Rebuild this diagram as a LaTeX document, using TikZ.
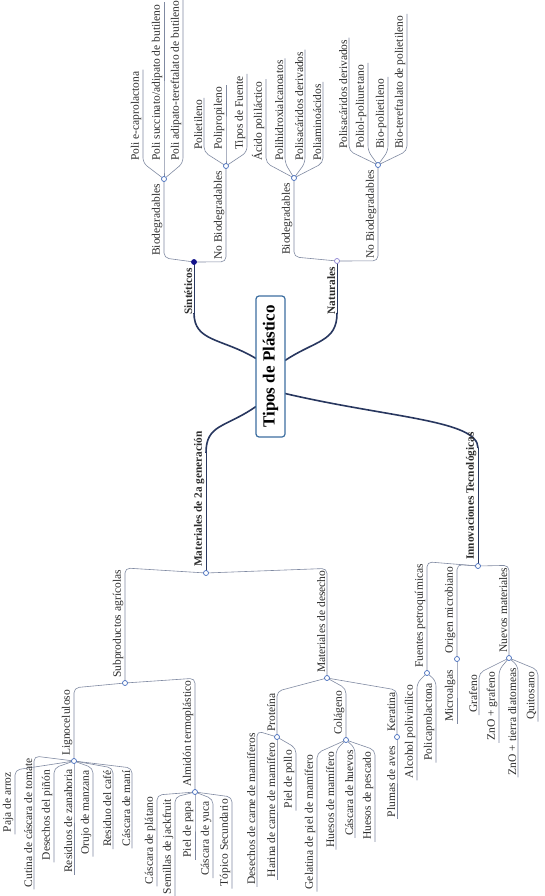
\documentclass[tikz,border=0pt]{standalone}
\usepackage{fontspec}
\setmainfont{Liberation Serif}
\usetikzlibrary{calc}
\pgfdeclarelayer{bg}
\pgfdeclarelayer{paper}
\pgfsetlayers{paper,bg,main}
\definecolor{lineC}{RGB}{128,138,162}
\definecolor{txtC}{RGB}{45,45,45}
\definecolor{dotC}{RGB}{70,110,190}
\definecolor{navyC}{RGB}{40,55,95}
\definecolor{sinC}{RGB}{20,20,140}
\definecolor{natC}{RGB}{140,130,210}
\definecolor{rootC}{RGB}{60,110,160}
\tikzset{
  leaf/.style={rotate=90, font=\fontsize{11.5}{13}\selectfont, text=txtC, inner xsep=2pt, inner ysep=1.5pt},
  mainlbl/.style={rotate=90, font=\fontsize{11.3}{13}\selectfont\bfseries, text=txtC, inner xsep=2pt, inner ysep=1.5pt},
  conn/.style={draw=lineC, line width=0.6pt, rounded corners=5pt},
  dotn/.style={circle, draw=dotC, fill=white, line width=0.7pt, minimum size=5pt, inner sep=0pt},
  rootbox/.style={rotate=90, draw=rootC, line width=1.2pt, rounded corners=3pt, fill=white, text=black,
    font=\fontsize{17}{19}\selectfont\bfseries, minimum width=141pt, minimum height=29pt, inner sep=0pt},
  mainconn/.style={draw=navyC, line width=1.6pt},
  mainline/.style={draw=navyC, line width=0.9pt}
}
\newcommand\toplf[5]{%
  \node[leaf,anchor=south west] (#1) at (#2,#3) {#5};
  \begin{pgfonlayer}{bg}\draw[conn] (#4.center) -- (#1.south west) -- (#1.south east);\end{pgfonlayer}}
\newcommand\botlf[5]{%
  \node[leaf,anchor=south east] (#1) at (#2,#3) {#5};
  \begin{pgfonlayer}{bg}\draw[conn] (#4.center) -- (#1.south east) -- (#1.south west);\end{pgfonlayer}}
\newcommand\topin[6]{%
  \node[dotn] (#5) at (#2,#3) {};
  \node[leaf,anchor=south east] (#1) at ($(#5.center)+(0,3)$) {#6};
  \begin{pgfonlayer}{bg}\draw[conn] (#4.center) -- (#1.south west) -- (#5.center);\end{pgfonlayer}}
\newcommand\botin[6]{%
  \node[dotn] (#5) at (#2,#3) {};
  \node[leaf,anchor=south west] (#1) at ($(#5.center)+(0,-3)$) {#6};
  \begin{pgfonlayer}{bg}\draw[conn] (#4.center) -- (#1.south east) -- (#5.center);\end{pgfonlayer}}
\begin{document}
\begin{tikzpicture}[x=1pt,y=-1pt]
\begin{pgfonlayer}{paper}
\fill[white] (0,0) rectangle (544,896);
\end{pgfonlayer}
\useasboundingbox (0,0) rectangle (544,896);

% root
\node[rootbox] (root) at (270.5,366.5) {Tipos de Plástico};

% main branches
\node[dotn, fill=sinC, draw=sinC] (dSin) at (194,262) {};
\node[mainlbl, anchor=south east] (sin) at (194,266) {Sintéticos};
\node[dotn, draw=natC] (dNat) at (337,261) {};
\node[mainlbl, anchor=south east] (nat) at (337,265) {Naturales};
\node[dotn] (dMat) at (206,573) {};
\node[mainlbl, anchor=south west] (mat) at (206,569) {Materiales de 2a generación};
\node[dotn] (dInn) at (478,566) {};
\node[mainlbl, anchor=south west] (inn) at (478,562) {Innovaciones Tecnológicas};
\coordinate (sinJ) at ($(dSin.center)+(0,51)$);
\coordinate (natJ) at ($(dNat.center)+(0,52)$);
\coordinate (matJ) at ($(dMat.center)+(0,-120)$);
\coordinate (innJ) at ($(dInn.center)+(0,-118)$);

\begin{pgfonlayer}{bg}
\draw[mainconn] ($(root.center)+(-14.5,-8)$) .. controls (222,338) and (194,342) .. (sinJ);
\draw[mainline] (sinJ) -- (dSin.center);
\draw[mainconn] ($(root.center)+(14.5,-6)$) .. controls (316,340) and (337,342) .. (natJ);
\draw[mainline] (natJ) -- (dNat.center);
\draw[mainconn] ($(root.center)+(-14.5,40)$) .. controls (225,428) and (206,424) .. (matJ);
\draw[mainline] (matJ) -- (dMat.center);
\draw[mainconn] ($(root.center)+(14.5,27)$) .. controls (390,418) and (478,420) .. (innJ);
\draw[mainline] (innJ) -- (dInn.center);
\end{pgfonlayer}

% Sinteticos
\topin{sbio}{164}{179}{dSin}{dSB}{Biodegradables}
\topin{snob}{226}{166}{dSin}{dSN}{No Biodegradables}
\toplf{l1}{143}{163}{dSB}{Poli e-caprolactona}
\toplf{l2}{164}{163}{dSB}{Poli succinato/adipato de butileno}
\toplf{l3}{183}{163}{dSB}{Poli adipato-tereftalato de butileno}
\toplf{l4}{204}{152}{dSN}{Polietileno}
\toplf{l5}{226}{152}{dSN}{Polipropileno}
\toplf{l6}{247}{152}{dSN}{Tipos de Fuente}

% Naturales
\topin{nbio}{294}{178}{dNat}{dNB}{Biodegradables}
\topin{nnob}{378}{165}{dNat}{dNN}{No Biodegradables}
\toplf{l7}{266}{163}{dNB}{Ácido poliláctico}
\toplf{l8}{285}{163}{dNB}{Polihidroxialcanoatos}
\toplf{l9}{305}{163}{dNB}{Polisacáridos derivados}
\toplf{l10}{323}{163}{dNB}{Poliaminoácidos}
\toplf{l11}{349}{151}{dNN}{Polisacáridos derivados}
\toplf{l12}{368}{151}{dNN}{Poliol-poliuretano}
\toplf{l13}{388}{151}{dNN}{Bio-polietileno}
\toplf{l14}{407}{151}{dNN}{Bio-tereftalato de polietileno}

% Materiales de 2a generacion
\botin{subp}{125}{683}{dMat}{dSub}{Subproductos agrícolas}
\botin{mdes}{327}{678}{dMat}{dDes}{Materiales de desecho}
\botin{lig}{74}{761}{dSub}{dLig}{Lignoceluloso}
\botin{alm}{195}{792}{dSub}{dAlm}{Almidón termoplástico}
\botlf{m1}{15}{770}{dLig}{Paja de arroz}
\botlf{m2}{34}{756}{dLig}{Cutina de cáscara de tomate}
\botlf{m3}{54}{768}{dLig}{Desechos del piñón}
\botlf{m4}{74}{767}{dLig}{Residuos de zanahoria}
\botlf{m5}{93}{768}{dLig}{Orujo de manzana}
\botlf{m6}{113}{768}{dLig}{Residuo del café}
\botlf{m7}{132}{768}{dLig}{Cáscara de maní}
\botlf{a1}{157}{795}{dAlm}{Cáscara de plátano}
\botlf{a2}{175}{797}{dAlm}{Semillas de jackfruit}
\botlf{a3}{195}{799}{dAlm}{Piel de papa}
\botlf{a4}{213}{799}{dAlm}{Cáscara de yuca}
\botlf{a5}{232}{797}{dAlm}{Tópico Secundario}
\botin{prot}{277}{737}{dDes}{dPro}{Proteína}
\botin{cola}{346}{740}{dDes}{dCol}{Colágeno}
\botin{kera}{397}{737}{dDes}{dKer}{Keratina}
\botlf{p1}{257}{731}{dPro}{Desechos de carne de mamíferos}
\botlf{p2}{277}{741}{dPro}{Harina de carne de mamífero}
\botlf{p3}{296}{748}{dPro}{Piel de pollo}
\botlf{c1}{317}{753}{dCol}{Gelatina de piel de mamífero}
\botlf{c2}{336}{750}{dCol}{Huesos de mamífero}
\botlf{c3}{355}{748}{dCol}{Cáscara de huevos}
\botlf{c4}{375}{750}{dCol}{Huesos de pescado}
\botlf{k1}{397}{744}{dKer}{Plumas de aves}

% Innovaciones
\botin{fuen}{427}{673}{dInn}{dFue}{Fuentes petroquímicas}
\botin{orig}{457}{659}{dInn}{dOri}{Origen microbiano}
\botin{nuev}{509}{658}{dInn}{dNue}{Nuevos materiales}
\botlf{f1}{417}{683}{dFue}{Alcohol polivinílico}
\botlf{f2}{436}{681}{dFue}{Policaprolactona}
\botlf{o1}{457}{668}{dOri}{Microalgas}
\botlf{n1}{479}{673}{dNue}{Grafeno}
\botlf{n2}{499}{670}{dNue}{ZnO + grafeno}
\botlf{n3}{518}{666}{dNue}{ZnO + tierra diatomeas}
\botlf{n4}{538}{670}{dNue}{Quitosano}
\end{tikzpicture}
\end{document}
